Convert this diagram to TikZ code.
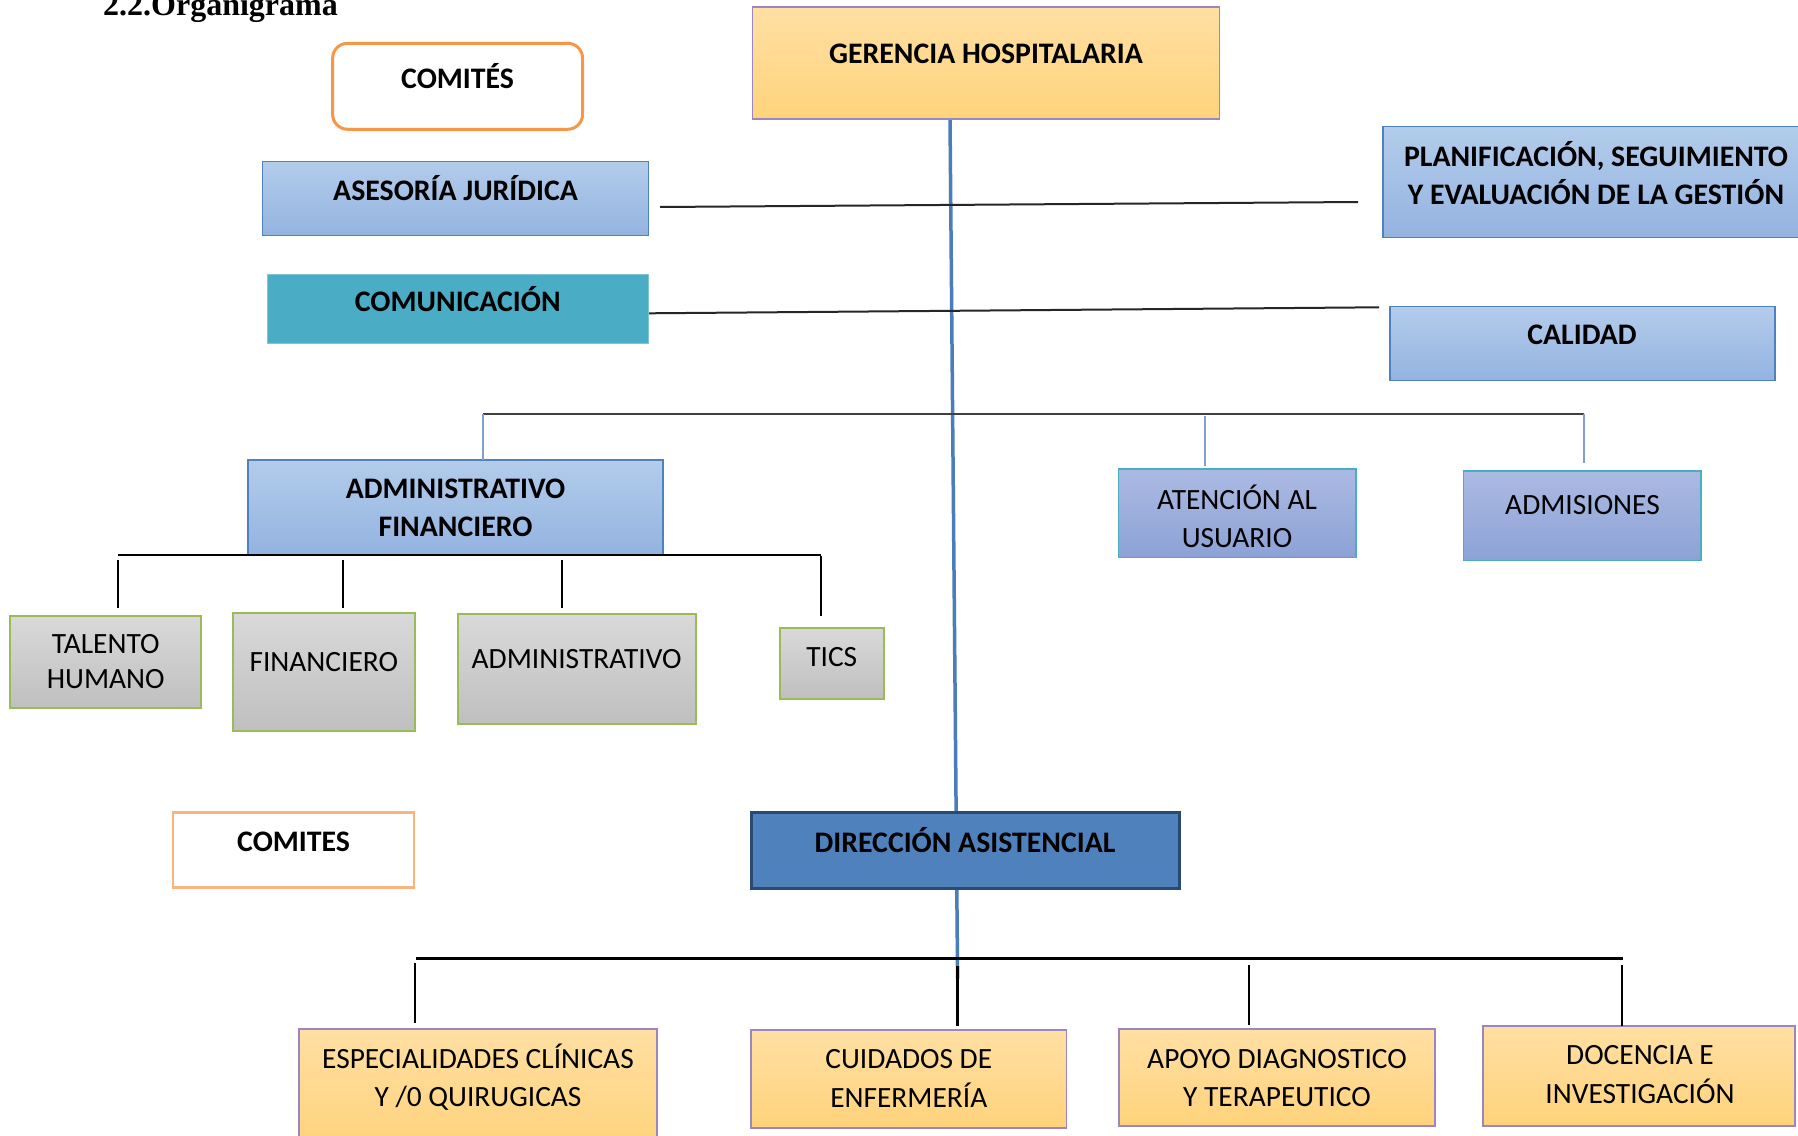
\documentclass[tikz,border=0pt]{standalone}
\usepackage{fontspec}
\setmainfont{Carlito}
\newfontfamily\titlefont{Liberation Serif}
\definecolor{goldtop}{HTML}{FFDFA3}
\definecolor{goldbot}{HTML}{FFD37C}
\definecolor{bluetop}{HTML}{B3CCEB}
\definecolor{bluebot}{HTML}{93B3E0}
\definecolor{blueline}{HTML}{4F81BD}
\definecolor{graytop}{HTML}{D9D9D9}
\definecolor{graybot}{HTML}{BFBFBF}
\definecolor{greenline}{HTML}{9BBB59}
\definecolor{lavtop}{HTML}{ABBAE2}
\definecolor{lavbot}{HTML}{8CA2D6}
\definecolor{cyanline}{HTML}{4BACC6}
\definecolor{purpleline}{HTML}{9C86BF}
\definecolor{orangeline}{HTML}{F79646}
\definecolor{lightorange}{HTML}{FAB47E}
\definecolor{dirfill}{HTML}{4F81BD}
\definecolor{dirline}{HTML}{2B4A72}
\definecolor{mainline}{HTML}{4A7EBB}
\definecolor{dropblue}{HTML}{7F9FCF}
\begin{document}
\begin{tikzpicture}[x=1pt,y=-1pt,
  box/.style={anchor=north west, inner sep=0pt, outer sep=0pt},
  goldbox/.style={box, draw=purpleline, line width=1.8pt, top color=goldtop, bottom color=goldbot},
  bluebox/.style={box, draw=blueline, line width=1.5pt, top color=bluetop, bottom color=bluebot},
  graybox/.style={box, draw=greenline, line width=2pt, top color=graytop, bottom color=graybot},
  lavbox/.style={box, draw=cyanline, line width=1.2pt, top color=lavtop, bottom color=lavbot},
  lbl/.style={anchor=base, inner sep=0pt, yshift=-1.5pt, font=\fontsize{29.4}{35}\selectfont},
  blbl/.style={anchor=base, inner sep=0pt, yshift=-1.5pt, font=\fontsize{29.8}{35}\selectfont\bfseries},
  conn/.style={line width=2pt, black!85},
  thin/.style={line width=1.5pt, black},
  bdrop/.style={line width=1.5pt, dropblue}]
\path[use as bounding box] (0,0) rectangle (1798,1135);
\clip (0,0) rectangle (1798,1135);
\fill[white] (0,0) rectangle (1798,1135);

% title
\node[anchor=base west, inner sep=0pt, font=\titlefont\fontsize{32}{36}\selectfont\bfseries] (title) at (103,16) {2.2.Organigrama};

% main vertical line (behind boxes)
\coordinate (vtop) at (950,119);
\coordinate (vbot) at (957.6,979);
\draw[line width=3.5pt, mainline] (vtop) -- (vbot);

% top boxes
\node[box, draw=orangeline, line width=3pt, rounded corners=15pt, fill=white, minimum width=250pt, minimum height=86pt] (comA) at (332.6,43.3) {};
\node[blbl] (comAt) at (457.6,87) {COMITÉS};

\node[goldbox, minimum width=467pt, minimum height=112pt] (ger) at (752.5,7.3) {};
\node[blbl] (gert) at (986,61.7) {GERENCIA HOSPITALARIA};

\node[bluebox, minimum width=386pt, minimum height=74pt] (ase) at (262.5,161.7) {};
\node[blbl] (aset) at (455.6,199.3) {ASESORÍA JURÍDICA};

\node[box, fill=cyanline, draw=cyanline!70, line width=1pt, minimum width=381.7pt, minimum height=69.3pt] (com) at (267,274) {};
\node[blbl] (comt) at (457.8,310) {COMUNICACIÓN};

\node[bluebox, minimum width=427pt, minimum height=110.6pt] (plan) at (1382.8,126.7) {};
\node[blbl] (plan1) at (1596,165) {PLANIFICACIÓN, SEGUIMIENTO};
\node[blbl] (plan2) at (1596,202.7) {Y EVALUACIÓN DE LA GESTIÓN};

\node[bluebox, minimum width=385pt, minimum height=74pt] (cal) at (1389.8,306.7) {};
\node[blbl] (calt) at (1582,343.3) {CALIDAD};

% staff lines
\coordinate (l1a) at (660,207);
\coordinate (l1b) at (1358,202);
\draw[conn] (l1a) -- (l1b);
\coordinate (l2a) at (649,313.3);
\coordinate (l2b) at (1379,307.3);
\draw[conn] (l2a) -- (l2b);

% middle tier
\coordinate (m1) at (483,414);
\coordinate (m2) at (1205,414);
\coordinate (m3) at (1584,414);
\draw[line width=2.5pt, black!75] (m1) -- (m3);

\node[bluebox, minimum width=415pt, minimum height=94.3pt] (af) at (248,460) {};
\node[blbl] (af1) at (455.5,496.7) {ADMINISTRATIVO};
\node[blbl] (af2) at (455.5,535) {FINANCIERO};

\node[lavbox, minimum width=237.3pt, minimum height=88.3pt] (aten) at (1118.7,469) {};
\node[lbl] (aten1) at (1237,508.3) {ATENCIÓN AL};
\node[lbl] (aten2) at (1237,545.7) {USUARIO};

\node[lavbox, minimum width=237.2pt, minimum height=89.3pt] (admis) at (1463.8,471) {};
\node[lbl] (admist) at (1582.5,513.3) {ADMISIONES};

\coordinate (m2s) at (1205,416);
\coordinate (m2e) at (1205,466);
\coordinate (m3e) at (1584,463);
\draw[bdrop] (m1) -- (m1 |- af.north);
\draw[bdrop] (m2s) -- (m2e);
\draw[bdrop] (m3) -- (m3e);

% administrative sub-units
\coordinate (a0) at (118,555.3);
\coordinate (a4) at (821,555.3);
\draw[conn, black] (a0) -- (a4);

\node[graybox, minimum width=190.7pt, minimum height=92.3pt] (tal) at (10.3,616) {};
\node[lbl] (tal1) at (105.7,651.7) {TALENTO};
\node[lbl] (tal2) at (105.7,687.3) {HUMANO};

\node[graybox, minimum width=182.5pt, minimum height=117.7pt] (fin) at (232.5,613.3) {};
\node[lbl] (fint) at (323.8,670) {FINANCIERO};

\node[graybox, minimum width=238.3pt, minimum height=110pt] (adm) at (457.5,614.3) {};
\node[lbl] (admt) at (576.6,666.7) {ADMINISTRATIVO};

\node[graybox, minimum width=104.4pt, minimum height=71.3pt] (tics) at (779.6,627.7) {};
\node[lbl] (ticst) at (831.8,665) {TICS};

\coordinate (d1a) at (118,560);  \coordinate (d1b) at (118,608);
\coordinate (d2a) at (343,560);  \coordinate (d2b) at (343,608);
\coordinate (d3a) at (562,560);  \coordinate (d3b) at (562,608);
\coordinate (d4a) at (821,556);  \coordinate (d4b) at (821,616);
\draw[thin] (d1a) -- (d1b);
\draw[thin] (d2a) -- (d2b);
\draw[thin, line width=2pt] (d3a) -- (d3b);
\draw[thin] (d4a) -- (d4b);

% lower tier
\node[box, draw=lightorange, line width=2.5pt, fill=white, minimum width=241pt, minimum height=75pt] (comB) at (173,812.3) {};
\node[blbl] (comBt) at (293.6,850) {COMITES};

\node[box, fill=dirfill, draw=dirline, line width=3pt, minimum width=428pt, minimum height=76pt] (dir) at (751,812.3) {};
\node[blbl] (dirt) at (965,850.7) {DIRECCIÓN ASISTENCIAL};

\coordinate (b0) at (416,958.5);
\coordinate (b4) at (1623,958.5);
\draw[line width=3pt, black] (b0) -- (b4);

\node[goldbox, minimum width=358pt, minimum height=116pt] (esp) at (299,1029.3) {};
\node[lbl] (esp1) at (478,1066.7) {ESPECIALIDADES CLÍNICAS};
\node[lbl] (esp2) at (478,1105) {Y /0 QUIRUGICAS};

\node[goldbox, minimum width=315.5pt, minimum height=98.3pt] (cui) at (751,1030) {};
\node[lbl] (cui1) at (908.8,1067.3) {CUIDADOS DE};
\node[lbl] (cui2) at (908.8,1106) {ENFERMERÍA};

\node[goldbox, minimum width=315.6pt, minimum height=96.7pt] (apo) at (1119,1029.3) {};
\node[lbl] (apo1) at (1277,1066.7) {APOYO DIAGNOSTICO};
\node[lbl] (apo2) at (1277,1105) {Y TERAPEUTICO};

\node[goldbox, minimum width=311.9pt, minimum height=100.3pt] (doc) at (1482.8,1025.7) {};
\node[lbl] (doc1) at (1640,1063.3) {DOCENCIA E};
\node[lbl] (doc2) at (1640,1101.7) {INVESTIGACIÓN};

\coordinate (e1a) at (415,963);    \coordinate (e1b) at (415,1023);
\coordinate (e2a) at (957.6,966);  \coordinate (e2b) at (957.6,1025.7);
\coordinate (e3a) at (1249,965);   \coordinate (e3b) at (1249,1025);
\coordinate (e4a) at (1621.6,965); \coordinate (e4b) at (1621.6,1025.7);
\draw[line width=2.5pt, black] (e1a) -- (e1b);
\draw[line width=2.5pt, black] (e2a) -- (e2b);
\draw[line width=2pt, black] (e3a) -- (e3b);
\draw[line width=2pt, black] (e4a) -- (e4b);
\end{tikzpicture}
\end{document}
